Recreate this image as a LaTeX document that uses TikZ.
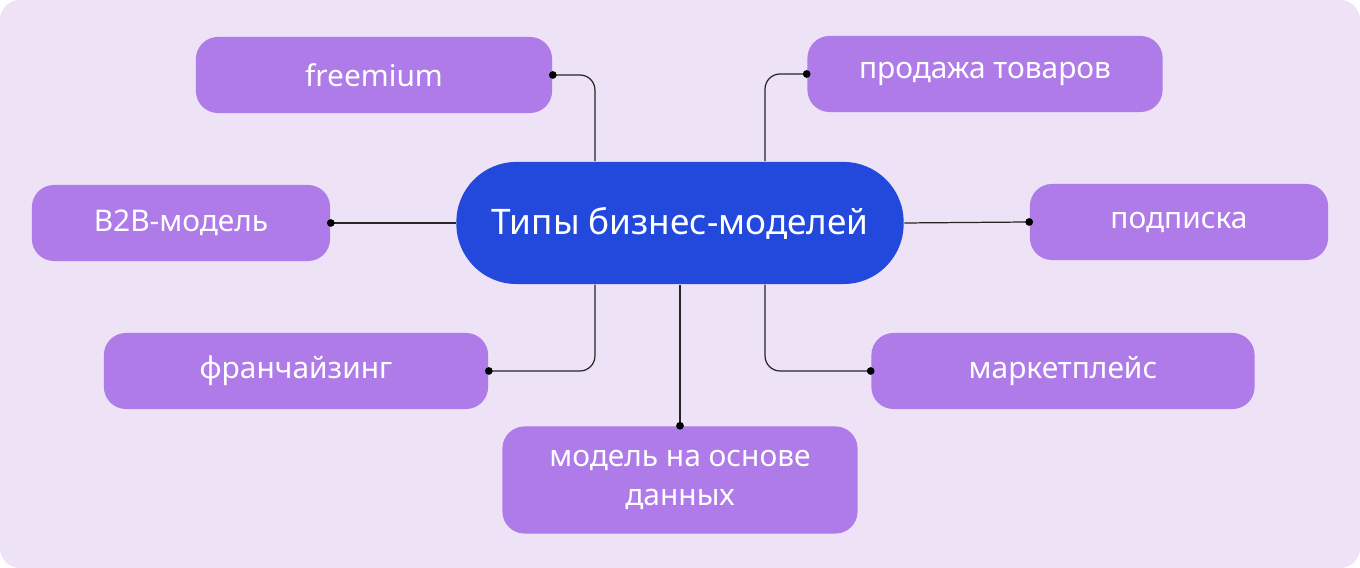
\documentclass[tikz,border=0pt]{standalone}
\usepackage{fontspec}
\setmainfont{Noto Sans}
\definecolor{bgc}{HTML}{EEE2F7}
\definecolor{leaf}{HTML}{AE7BE8}
\definecolor{hub}{HTML}{2249DC}
\tikzset{
  leaf/.style={fill=leaf,rounded corners=0.22cm,text=white,font=\fontsize{8.5}{11}\selectfont,
    minimum height=0.76cm,align=center,inner sep=0pt},
  wire/.style={draw=black!85,line width=0.35pt,rounded corners=0.15cm},
  pin/.style={fill=black,circle,inner sep=0pt,minimum size=2.2pt}
}
\begin{document}
\begin{tikzpicture}[x=0.01cm,y=-0.01cm]
  \useasboundingbox (0,0) rectangle (1360,568);
  \fill[white] (0,0) rectangle (1360,568);
  \fill[bgc,rounded corners=0.2cm] (0,0) rectangle (1360,568);

  \node[fill=hub,rounded corners=0.6cm,minimum width=4.47cm,minimum height=1.22cm,
    text=white,font=\bfseries\fontsize{10}{12}\selectfont] (hub) at (680,223) {Типы бизнес-моделей};

  \node[leaf,minimum width=3.56cm] (free) at (374,75) {freemium};
  \node[leaf,minimum width=3.55cm] (sale) at (985,74) {продажа товаров};
  \node[leaf,minimum width=2.98cm] (b2b) at (181,223) {B2B-модель};
  \node[leaf,minimum width=2.98cm] (subs) at (1179,222) {подписка};
  \node[leaf,minimum width=3.84cm] (fran) at (296,371) {франчайзинг};
  \node[leaf,minimum width=3.83cm] (mark) at (1063,371) {маркетплейс};
  \node[leaf,minimum width=3.55cm,minimum height=1.07cm] (data) at (680,480) {модель на основе\\данных};

  % connectors
  \draw[wire] (free.east) -| ([xshift=-0.85cm]hub.north);
  \draw[wire] (sale.west) -| ([xshift=0.85cm]hub.north);
  \draw[wire] (b2b.east) -- (hub.west);
  \draw[wire] (subs.west) -- (hub.east);
  \draw[wire] (fran.east) -| ([xshift=-0.85cm]hub.south);
  \draw[wire] (mark.west) -| ([xshift=0.85cm]hub.south);
  \draw[wire] (data.north) -- (hub.south);

  \foreach \n/\a in {free/east,sale/west,b2b/east,subs/west,fran/east,mark/west,data/north}
    \node[pin] at (\n.\a) {};
\end{tikzpicture}
\end{document}
